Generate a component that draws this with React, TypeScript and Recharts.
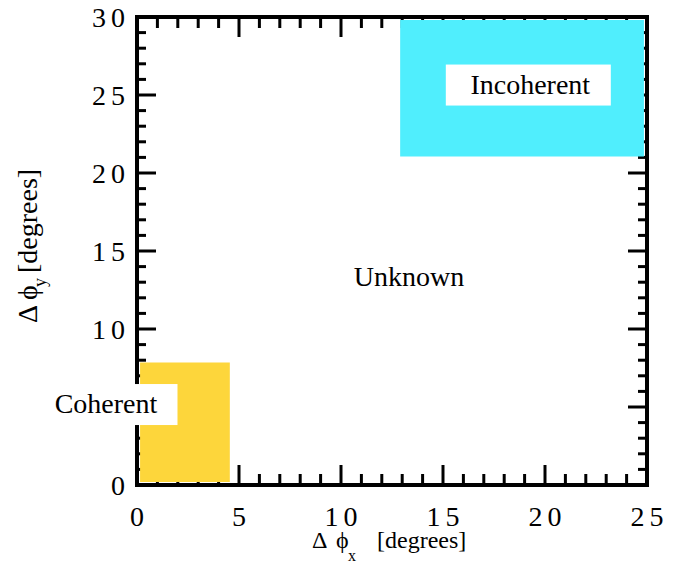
import React from "react";
import {
  ScatterChart,
  Scatter,
  XAxis,
  YAxis,
  ReferenceArea,
  ReferenceDot,
  Label,
} from "recharts";

const FONT = "Liberation Serif, Tinos, Times New Roman, DejaVu Serif, serif";

// axis tick labels (the 5 on the y axis sits under the "Coherent" box)
const xTickLabels = [0, 5, 10, 15, 20, 25];
const yTickLabels = [0, 10, 15, 20, 25, 30];

// inward tick marks (every degree)
const xTickMarks = [0, 1, 2, 3, 4, 5, 6, 7, 8, 9, 10, 11, 12, 13, 14, 15, 16, 17, 18, 19, 20, 21, 22, 23, 24, 25];
const yTickMarks = [0, 1, 2, 3, 4, 5, 6, 7, 8, 9, 10, 11, 12, 13, 14, 15, 16, 17, 18, 19, 20, 21, 22, 23, 24, 25, 26, 27, 28, 29, 30];

// regions [from, to] in degrees
const coherentX = [0.15, 4.55];
const coherentY = [0.2, 7.85];
const incoherentX = [12.9, 24.85];
const incoherentY = [21.05, 29.8];

// region names and where they sit
const regionNames = ["Coherent", "Unknown", "Incoherent"];
const regionLabelX = [-1.52, 13.33, 19.28];
const regionLabelY = [5.19, 13.33, 25.67];
const regionLabelBox = [true, false, true];

const X_MAX = 25;
const Y_MAX = 30;

type Dir = "up" | "down" | "left" | "right";

const tickShape = (dir: Dir) => (p: any) => {
  const { cx, cy, payload } = p;
  const major = payload.major;
  const horiz = dir === "up" || dir === "down";
  const len = horiz ? (major ? 20 : 11) : major ? 19 : 9;
  let x2 = cx;
  let y2 = cy;
  if (dir === "up") y2 = cy - len;
  if (dir === "down") y2 = cy + len;
  if (dir === "left") x2 = cx - len;
  if (dir === "right") x2 = cx + len;
  return <line x1={cx} y1={cy} x2={x2} y2={y2} stroke="#000" strokeWidth={3} />;
};

const bottomTicks = xTickMarks.map((v) => ({ x: v, y: 0, major: v % 5 === 0 }));
const topTicks = xTickMarks.map((v) => ({ x: v, y: Y_MAX, major: v % 5 === 0 }));
const leftTicks = yTickMarks.map((v) => ({ x: 0, y: v, major: v % 5 === 0 }));
const rightTicks = yTickMarks.map((v) => ({ x: X_MAX, y: v, major: v % 5 === 0 }));

const XTick = (p: any) => (
  <text
    x={p.x + 2.5}
    y={p.y + 41}
    textAnchor="middle"
    style={{ fontFamily: FONT, fontSize: 28, letterSpacing: 5 }}
    fill="#000"
  >
    {p.payload.value}
  </text>
);

const YTick = (p: any) => (
  <text
    x={p.x - 7}
    y={p.y}
    dy="0.34em"
    textAnchor="end"
    style={{ fontFamily: FONT, fontSize: 28, letterSpacing: 5 }}
    fill="#000"
  >
    {p.payload.value}
  </text>
);

const XTitle = (p: any) => {
  const vb = p.viewBox;
  const x0 = vb.x + vb.width / 2 - 80;
  const y0 = vb.y + 63;
  return (
    <text transform={`translate(${x0}, ${y0})`} style={{ fontFamily: FONT, fontSize: 24 }} fill="#000">
      <tspan x={0} y={0}>Δ</tspan>
      <tspan x={24} y={0}>ϕ</tspan>
      <tspan x={36} y={13} style={{ fontSize: 16 }}>x</tspan>
      <tspan x={65} y={0}>[degrees]</tspan>
    </text>
  );
};

const YTitle = (p: any) => {
  const vb = p.viewBox;
  const x0 = 37;
  const y0 = vb.y + vb.height / 2 + 72;
  return (
    <text
      transform={`translate(${x0}, ${y0}) rotate(-90)`}
      style={{ fontFamily: FONT, fontSize: 28 }}
      fill="#000"
    >
      <tspan x={0} y={0}>Δ</tspan>
      <tspan x={23} y={0}>ϕ</tspan>
      <tspan x={36} y={9} style={{ fontSize: 18 }}>y</tspan>
      <tspan x={50} y={0}>[degrees]</tspan>
    </text>
  );
};

const regionLabel = (name: string, boxed: boolean) => (p: any) => {
  const { cx, cy } = p;
  const w = name.length * 9 + 75;
  return (
    <g>
      {boxed && <rect x={cx - w / 2 - 2} y={cy - 20} width={w} height={41} fill="#fff" />}
      <text x={cx} y={cy} dy="0.33em" textAnchor="middle" style={{ fontFamily: FONT, fontSize: 28 }} fill="#000">
        {name}
      </text>
    </g>
  );
};

export default function App() {
  return (
    <div style={{ position: "absolute", left: 0, top: 0, width: 678, height: 566, background: "#fff" }}>
      <ScatterChart width={678} height={566} margin={{ top: 17, right: 31, bottom: 0, left: 57 }}>
        <XAxis
          type="number"
          dataKey="x"
          domain={[0, X_MAX]}
          ticks={xTickLabels}
          interval={0}
          height={81}
          axisLine={false}
          tickLine={false}
          tickSize={0}
          tickMargin={0}
          tick={<XTick />}
        >
          <Label content={<XTitle />} />
        </XAxis>
        <YAxis
          type="number"
          dataKey="y"
          domain={[0, Y_MAX]}
          ticks={yTickLabels}
          interval={0}
          width={80}
          axisLine={false}
          tickLine={false}
          tickSize={0}
          tickMargin={0}
          tick={<YTick />}
        >
          <Label content={<YTitle />} />
        </YAxis>

        <Scatter data={bottomTicks} shape={tickShape("up")} isAnimationActive={false} zIndex={50} />
        <Scatter data={topTicks} shape={tickShape("down")} isAnimationActive={false} zIndex={50} />
        <Scatter data={leftTicks} shape={tickShape("right")} isAnimationActive={false} zIndex={50} />
        <Scatter data={rightTicks} shape={tickShape("left")} isAnimationActive={false} zIndex={50} />

        <ReferenceArea
          x1={coherentX[0]}
          x2={coherentX[1]}
          y1={coherentY[0]}
          y2={coherentY[1]}
          fill="#fdd63b"
          fillOpacity={1}
          stroke="none"
          zIndex={100}
        />
        <ReferenceArea
          x1={incoherentX[0]}
          x2={incoherentX[1]}
          y1={incoherentY[0]}
          y2={incoherentY[1]}
          fill="#50eefd"
          fillOpacity={1}
          stroke="none"
          zIndex={100}
        />
        <ReferenceArea
          x1={0}
          x2={X_MAX}
          y1={0}
          y2={Y_MAX}
          fill="none"
          stroke="#000"
          strokeWidth={4}
          zIndex={150}
        />

        {regionNames.map((name, i) => (
          <ReferenceDot
            key={name}
            x={regionLabelX[i]}
            y={regionLabelY[i]}
            ifOverflow="visible"
            zIndex={2000}
            shape={regionLabel(name, regionLabelBox[i])}
          />
        ))}
      </ScatterChart>
    </div>
  );
}
